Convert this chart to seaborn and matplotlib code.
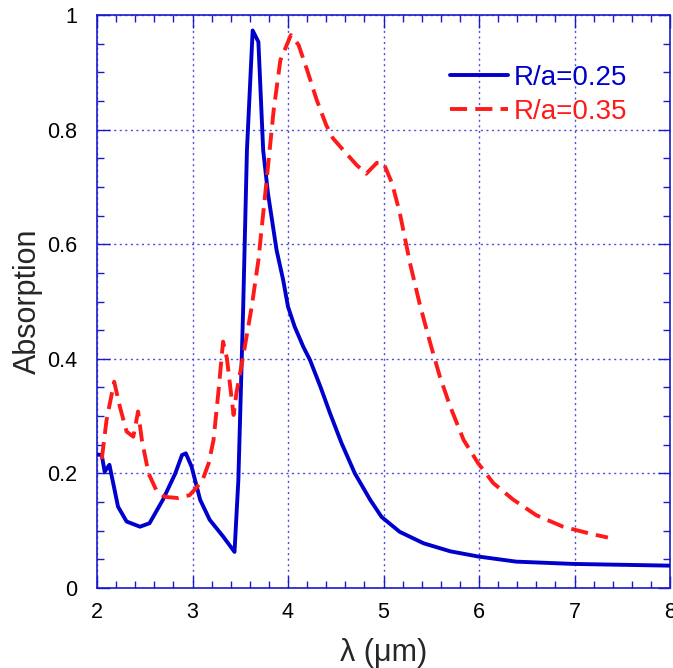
import numpy as np
import pandas as pd
import matplotlib
matplotlib.use("Agg")
import matplotlib.pyplot as plt
from matplotlib.ticker import MultipleLocator, FixedLocator, FixedFormatter
import seaborn as sns

# ---- data ----
x_025 = [2.0, 2.05, 2.08, 2.13, 2.22, 2.31, 2.45, 2.55, 2.69, 2.82, 2.89, 2.93,
         2.99, 3.08, 3.18, 3.32, 3.44, 3.48, 3.53, 3.57, 3.63, 3.69, 3.74, 3.79,
         3.88, 3.95, 4.0, 4.07, 4.16, 4.23, 4.34, 4.44, 4.56, 4.70, 4.86, 4.98,
         5.17, 5.42, 5.70, 5.99, 6.39, 6.99, 8.0]
y_025 = [0.233, 0.232, 0.203, 0.215, 0.142, 0.116, 0.107, 0.113, 0.154, 0.200,
         0.232, 0.235, 0.212, 0.154, 0.119, 0.090, 0.063, 0.188, 0.485, 0.764,
         0.973, 0.953, 0.764, 0.689, 0.590, 0.537, 0.491, 0.456, 0.421, 0.398,
         0.351, 0.305, 0.253, 0.200, 0.154, 0.124, 0.098, 0.078, 0.064, 0.055,
         0.046, 0.042, 0.039]

x_035 = [2.05, 2.10, 2.18, 2.24, 2.31, 2.38, 2.43, 2.47, 2.54, 2.62, 2.71, 2.85,
         2.97, 3.10, 3.17, 3.22, 3.27, 3.32, 3.36, 3.43, 3.46, 3.53, 3.62, 3.69,
         3.78, 3.85, 3.92, 4.03, 4.11, 4.20, 4.30, 4.40, 4.47, 4.58, 4.72, 4.82,
         4.93, 5.00, 5.09, 5.17, 5.28, 5.38, 5.49, 5.59, 5.70, 5.84, 5.99, 6.15,
         6.36, 6.60, 6.88, 7.16, 7.35]
y_035 = [0.225, 0.293, 0.360, 0.316, 0.273, 0.264, 0.308, 0.258, 0.200, 0.171,
         0.159, 0.157, 0.162, 0.186, 0.218, 0.258, 0.340, 0.430, 0.401, 0.302,
         0.340, 0.404, 0.491, 0.572, 0.718, 0.834, 0.921, 0.965, 0.948, 0.904,
         0.852, 0.808, 0.785, 0.764, 0.738, 0.723, 0.742, 0.742, 0.706, 0.655,
         0.565, 0.495, 0.427, 0.369, 0.316, 0.258, 0.218, 0.183, 0.154, 0.127,
         0.107, 0.095, 0.088]

series_labels = ["R/a=0.25", "R/a=0.35"]
xtick_values = [2, 3, 4, 5, 6, 7, 8]
xtick_labels = ["2", "3", "4", "5", "6", "7", "8"]
ytick_values = [0, 0.2, 0.4, 0.6, 0.8, 1.0]
ytick_labels = ["0", "0.2", "0.4", "0.6", "0.8", "1"]

df = pd.concat([
    pd.DataFrame({"x": x_025, "y": y_025, "series": series_labels[0]}),
    pd.DataFrame({"x": x_035, "y": y_035, "series": series_labels[1]}),
])

sns.set_style("ticks")
plt.rcParams["font.family"] = ["Liberation Sans", "DejaVu Sans"]

BLUE = "#0000cc"
RED = "#ff1a1a"
AXBLUE = "#1a1acc"

fig = plt.figure(figsize=(6.73, 6.68), dpi=100)
ax = fig.add_axes([97 / 673, 80 / 668, 573 / 673, 573 / 668])

sns.lineplot(data=df, x="x", y="y", hue="series", style="series",
             palette={series_labels[0]: BLUE, series_labels[1]: RED},
             dashes={series_labels[0]: "", series_labels[1]: (4.4, 2.1)},
             linewidth=2.8, sort=False, estimator=None, ax=ax, zorder=3)

ax.set_xlim(2, 8)
ax.set_ylim(0, 1)
ax.xaxis.set_major_locator(FixedLocator(xtick_values))
ax.xaxis.set_major_formatter(FixedFormatter(xtick_labels))
ax.yaxis.set_major_locator(FixedLocator(ytick_values))
ax.yaxis.set_major_formatter(FixedFormatter(ytick_labels))
ax.xaxis.set_minor_locator(MultipleLocator(0.2))
ax.yaxis.set_minor_locator(MultipleLocator(0.05))

ax.grid(True, which="major", color="#4d4ddd", linestyle=(0, (1.5, 2.5)), linewidth=1.0)
for s in ax.spines.values():
    s.set_color(AXBLUE)
    s.set_linewidth(1.2)

ax.tick_params(which="both", direction="in", top=True, right=True, color=AXBLUE,
               labelcolor="black", width=1.0)
ax.tick_params(which="major", length=9, labelsize=15.5, pad=10)
ax.tick_params(which="minor", length=5)
ax.tick_params(axis="y", which="major", pad=14)

ax.set_xlabel("λ (μm)", fontsize=22, labelpad=11)
ax.set_ylabel("Absorption", fontsize=22, labelpad=3)

ax.legend(loc="upper left", bbox_to_anchor=(0.616, 0.913), frameon=False,
          fontsize=20, handlelength=2.1, handletextpad=0.2, labelspacing=0.3,
          borderpad=0, borderaxespad=0, labelcolor="linecolor", title=None)

fig.savefig("out.png", dpi=100)
